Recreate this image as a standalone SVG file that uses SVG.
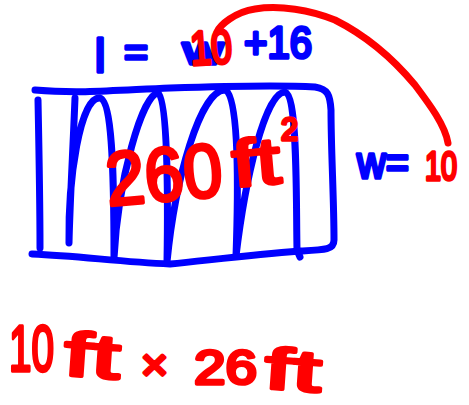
<svg xmlns="http://www.w3.org/2000/svg" width="469" height="405" viewBox="0 0 469 405">
<style>
.b{fill:#0000ff;stroke:#0000ff}
.r{fill:#ff0000;stroke:#ff0000}
text{font-family:"Liberation Sans",Arial,sans-serif;stroke-width:3.5;stroke-linejoin:round}
.ln{fill:none;stroke-width:7;stroke-linecap:round;stroke-linejoin:round}
</style>
<rect width="469" height="405" fill="#ffffff"/>
<g id="shape">
<path class="ln" stroke="#0000ff" d="M35 90 C80 94 120 90 170 88 C230 86 280 85 315 87 C328 89 330 95 331 110 C331 150 334 200 334 240 C334 250 325 250 300 251 C250 255 210 260 170 264 C120 262 80 256 32 254"/>
<path class="ln" stroke="#0000ff" d="M38 100 C39 150 40 200 40 248"/>
<path class="ln" stroke="#0000ff" d="M75 98 C73 150 70 200 69 243 C68 180 80 96 100 98 C114 102 114 200 114 258 C118 180 142 95 158 93 C168 100 168 200 167 262 C175 180 200 90 225 90 C240 93 238 200 236 256 C245 180 265 92 285 92 C298 96 296 200 297 250 L300 257"/>
</g>
<g id="length-label">
<text class="b" font-size="46" x="95" y="72">l</text>
<text class="b" font-size="40" x="124" y="66" textLength="24" lengthAdjust="spacingAndGlyphs">=</text>
<text class="b" font-size="38" x="183" y="64" textLength="40" lengthAdjust="spacingAndGlyphs">w</text>
<text class="b" font-size="44" x="244" y="58" textLength="68" lengthAdjust="spacingAndGlyphs">+16</text>
<text class="r" font-size="48" x="190" y="64" textLength="42" lengthAdjust="spacingAndGlyphs" transform="rotate(-4 210 48)">10</text>
</g>
<g id="arc">
<path class="ln" stroke="#ff0000" d="M217 32 C220 25 235 12 255 9 C280 5 310 10 335 20 C365 35 390 55 415 85 C430 105 445 125 448 143"/>
</g>
<g id="width-label">
<text class="b" font-size="44" x="357" y="178" textLength="52" lengthAdjust="spacingAndGlyphs">w=</text>
<text class="r" font-size="40" x="425" y="180" textLength="32" lengthAdjust="spacingAndGlyphs">10</text>
</g>
<g id="area-label">
<text class="r" font-size="76" x="105" y="201" textLength="117" lengthAdjust="spacingAndGlyphs" transform="rotate(-5 160 170)">260</text>
<text class="r" font-size="66" x="232" y="185" textLength="48" lengthAdjust="spacingAndGlyphs" transform="rotate(-5 255 160)">ft</text>
<text class="r" font-size="32" x="281" y="140" textLength="17" lengthAdjust="spacingAndGlyphs">2</text>
</g>
<g id="dimensions">
<text class="r" font-size="64" x="9" y="371" textLength="45" lengthAdjust="spacingAndGlyphs">10</text>
<text class="r" font-size="62" x="64" y="377" textLength="56" lengthAdjust="spacingAndGlyphs" transform="rotate(4 93 360)">ft</text>
<text class="r" font-size="44" x="141" y="380" textLength="27" lengthAdjust="spacingAndGlyphs">×</text>
<text class="r" font-size="48" x="194" y="384" textLength="63" lengthAdjust="spacingAndGlyphs">26</text>
<text class="r" font-size="58" x="265" y="390" textLength="56" lengthAdjust="spacingAndGlyphs" transform="rotate(4 293 372)">ft</text>
</g>
</svg>
